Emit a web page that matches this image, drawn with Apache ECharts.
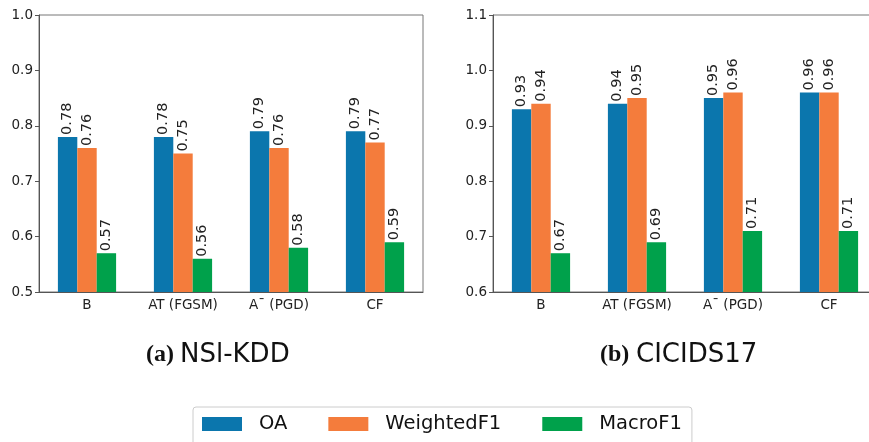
<!DOCTYPE html>
<html>
<head>
<meta charset="utf-8">
<script src="https://cdn.jsdelivr.net/npm/echarts@6/dist/echarts.min.js"></script>
<style>
html,body{margin:0;padding:0;background:#fff;overflow:hidden;width:869px;height:442px;}
#chart{width:880px;height:442px;}
</style>
</head>
<body>
<div id="chart"></div>
<script>
const categories = ['B', 'AT (FGSM)', 'A\u00AF (PGD)', 'CF'];
const seriesNames = ['OA', 'WeightedF1', 'MacroF1'];
const nslOA = [0.78, 0.78, 0.79, 0.79];
const nslWeightedF1 = [0.76, 0.75, 0.76, 0.77];
const nslMacroF1 = [0.57, 0.56, 0.58, 0.59];
const cicOA = [0.93, 0.94, 0.95, 0.96];
const cicWeightedF1 = [0.94, 0.95, 0.96, 0.96];
const cicMacroF1 = [0.67, 0.69, 0.71, 0.71];
const nslTicks = [0.5, 1.0];
const cicTicks = [0.6, 1.1];
const captionA = ['(a)', 'NSl-KDD'];
const captionB = ['(b)', 'CICIDS17'];

const colors = ['#0b76ad', '#f47c3c', '#00a14b'];
const FONT = 'DejaVu Sans';

function xAx(gi) {
  return {
    type: 'category', gridIndex: gi, data: categories,
    axisLine: {lineStyle: {color: '#555', width: 1}},
    axisTick: {alignWithLabel: true, length: 4, lineStyle: {color: '#555'}},
    axisLabel: {fontFamily: FONT, fontSize: 13.5, color: '#222', margin: 6}
  };
}
function yAx(gi, ticks) {
  return {
    type: 'value', gridIndex: gi, min: ticks[0], max: ticks[1], interval: 0.1,
    splitLine: {show: false},
    axisLine: {show: true, lineStyle: {color: '#555', width: 1}},
    axisTick: {show: true, length: 4, lineStyle: {color: '#555'}},
    axisLabel: {fontFamily: FONT, fontSize: 13.5, color: '#222', margin: 6,
      formatter: v => v.toFixed(1)}
  };
}
function bar(name, data, gi, ci) {
  return {
    type: 'bar', name: name, data: data, xAxisIndex: gi, yAxisIndex: gi,
    barWidth: 19.4, barGap: '0%',
    itemStyle: {color: colors[ci]},
    label: {show: true, position: 'top', rotate: 90, align: 'left', verticalAlign: 'middle',
      distance: 2, fontFamily: FONT, fontSize: 14.5, color: '#222',
      formatter: p => p.value.toFixed(2)}
  };
}

const chart = echarts.init(document.getElementById('chart'), null, {renderer: 'canvas'});
chart.setOption({
  animation: false,
  backgroundColor: '#fff',
  grid: [
    {left: 39, top: 15, width: 384, height: 277, show: true, borderColor: '#777', borderWidth: 1},
    {left: 493, top: 15, width: 384, height: 277, show: true, borderColor: '#777', borderWidth: 1}
  ],
  xAxis: [xAx(0), xAx(1)],
  yAxis: [yAx(0, nslTicks), yAx(1, cicTicks)],
  legend: {
    data: seriesNames, left: 193, top: 407,
    itemWidth: 40, itemHeight: 14, itemGap: 41,
    padding: [7, 10, 30, 9],
    borderColor: '#ccc', borderWidth: 1, borderRadius: 3,
    icon: 'rect',
    textStyle: {fontFamily: FONT, fontSize: 19.5, color: '#111', padding: [0, 0, 0, 12]}
  },
  graphic: [
    {type: 'text', left: 146, top: 343, style: {text: captionA[0], font: 'bold 24px "Liberation Serif"', fill: '#111'}},
    {type: 'text', left: 180, top: 342, style: {text: captionA[1], font: '26px "DejaVu Sans"', fill: '#111'}},
    {type: 'text', left: 600, top: 343, style: {text: captionB[0], font: 'bold 24px "Liberation Serif"', fill: '#111'}},
    {type: 'text', left: 636, top: 342, style: {text: captionB[1], font: '26px "DejaVu Sans"', fill: '#111'}}
  ],
  series: [
    bar(seriesNames[0], nslOA, 0, 0),
    bar(seriesNames[1], nslWeightedF1, 0, 1),
    bar(seriesNames[2], nslMacroF1, 0, 2),
    bar(seriesNames[0], cicOA, 1, 0),
    bar(seriesNames[1], cicWeightedF1, 1, 1),
    bar(seriesNames[2], cicMacroF1, 1, 2)
  ]
});
</script>
</body>
</html>
